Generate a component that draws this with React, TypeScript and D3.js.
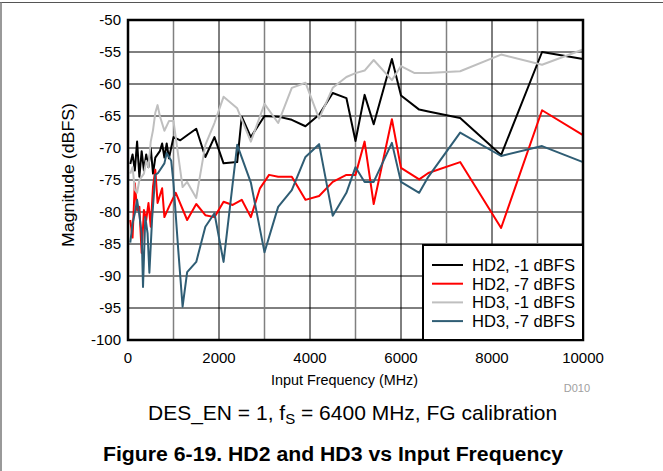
import React from 'react';
import * as d3 from 'd3';

type Pt = [number, number];

// HD2, -1 dBFS
const hd2Minus1: Pt[] = [
  [50, -72.5], [100, -71], [150, -73.5], [200, -69], [250, -74.5], [300, -70.5],
  [350, -73.5], [400, -71], [450, -73], [500, -70], [550, -74], [600, -71.5],
  [650, -71], [700, -70.5], [750, -69.3], [800, -71.5], [850, -69.3], [900, -71.6],
  [1000, -68.3], [1150, -68.8], [1300, -68], [1500, -67], [1700, -71.4], [1900, -68.3],
  [2100, -72.4], [2400, -72.2], [2500, -65.1], [2700, -68.3], [3000, -65], [3300, -65.1],
  [3600, -65.6], [3900, -66.6], [4200, -64.8], [4500, -61.4], [4800, -62.2], [5000, -68.9],
  [5200, -61.7], [5400, -66.3], [5800, -56.1], [6000, -61.8], [6400, -64], [6600, -64.3],
  [7300, -65.3], [8200, -71.1], [9100, -55], [10000, -56.1],
];

// HD2, -7 dBFS
const hd2Minus7: Pt[] = [
  [50, -81.25], [100, -84], [150, -75.5], [200, -79.7], [250, -79.2], [300, -86.4],
  [350, -79.7], [400, -81.25], [450, -78.6], [500, -82.3], [550, -76], [600, -73.4],
  [650, -78.6], [750, -76.3], [800, -80.8], [900, -79.2], [1050, -77], [1300, -81.25],
  [1500, -78.75], [1700, -80.5], [1900, -80.8], [2100, -78.4], [2300, -78.9], [2500, -78.1],
  [2700, -80.8], [2900, -76.3], [3100, -74.2], [3300, -74.5], [3600, -74.5], [3900, -78.1],
  [4200, -77.5], [4500, -75.3], [4800, -74.2], [5000, -74.2], [5200, -69], [5400, -78.75],
  [5800, -65.5], [6000, -73.1], [6400, -74.9], [6600, -73.9], [7300, -72.2], [8200, -82.5],
  [9100, -64.1], [10000, -68],
];

// HD3, -1 dBFS
const hd3Minus1: Pt[] = [
  [50, -74], [100, -73], [150, -76.5], [200, -77], [250, -75], [300, -74.5],
  [350, -74], [400, -72], [450, -73], [500, -69], [550, -67.2], [600, -64.5],
  [650, -63.3], [700, -65], [800, -67.3], [900, -65.8], [1000, -65.8], [1200, -76.1],
  [1300, -75.3], [1500, -77.8], [1700, -69.5], [1900, -66.1], [2100, -62], [2400, -63.8],
  [2700, -69], [3000, -63.1], [3300, -66.1], [3600, -60.6], [3900, -59.8], [4200, -65.4],
  [4500, -60.6], [4800, -58.9], [5000, -58.3], [5200, -57.9], [5400, -56.25], [5800, -59.4],
  [6000, -57.2], [6300, -58.3], [6600, -58.3], [7300, -58], [8200, -55.4], [9100, -57],
  [10000, -54.6],
];

// HD3, -7 dBFS
const hd3Minus7: Pt[] = [
  [50, -84.8], [100, -81.8], [150, -80.2], [200, -78.1], [250, -80.5], [300, -83.3],
  [330, -91.7], [380, -80.8], [430, -83.3], [470, -89.5], [530, -81], [600, -74.2],
  [660, -73.9], [800, -72.4], [850, -70.8], [950, -72], [1000, -75.5], [1100, -85.5],
  [1200, -94.8], [1300, -89.4], [1500, -87.8], [1700, -82.3], [1900, -80.2], [2100, -87.8],
  [2400, -69.5], [2700, -75.4], [3000, -86.3], [3300, -79.2], [3600, -76.6], [3900, -71.4],
  [4200, -69.4], [4500, -80.6], [4800, -77], [5000, -73], [5200, -75.3], [5400, -75.3],
  [5800, -69.2], [6000, -75.3], [6400, -77], [6600, -74.5], [7300, -67.6], [8200, -71.25],
  [9100, -69.7], [10000, -72.2],
];

const seriesNames = ['HD2, -1 dBFS', 'HD2, -7 dBFS', 'HD3, -1 dBFS', 'HD3, -7 dBFS'];
const seriesColors = ['#000000', '#ff0000', '#bfbfbf', '#2f5d74'];
const xTicks = [0, 2000, 4000, 6000, 8000, 10000];
const xMinorTicks = [1000, 3000, 5000, 7000, 9000];
const yTicks = [-100, -95, -90, -85, -80, -75, -70, -65, -60, -55, -50];

const W = 663;
const H = 471;
const pad = { top: 20, left: 128, right: 80, bottom: 131 };

class Plot extends React.Component<{}, {}> {
  x = d3.scaleLinear().domain([0, 10000]).range([pad.left, W - pad.right]);
  y = d3.scaleLinear().domain([-100, -50]).range([H - pad.bottom, pad.top]);

  render() {
    const { x, y } = this;
    const line = d3.line<Pt>().x(d => x(d[0])).y(d => y(d[1]));
    const data = [hd2Minus1, hd2Minus7, hd3Minus1, hd3Minus7];
    const x0 = x(0), x1 = x(10000), y0 = y(-100), y1 = y(-50);
    const lg = { x: 423, y: 245 };

    return (
      <svg
        width={W}
        height={H}
        viewBox={`0 0 ${W} ${H}`}
        style={{ position: 'absolute', left: 0, top: 0, background: '#fff' }}
        fontFamily="'Liberation Sans', Arial, sans-serif"
      >
        <line x1={0} x2={W} y1={2.5} y2={2.5} stroke="#555" strokeWidth={1} />
        <line x1={1} x2={1} y1={2} y2={H} stroke="#777" strokeWidth={1.5} />

        <g className="grid">
          {yTicks.map(t => (
            <line key={t} x1={x0} x2={x1} y1={y(t)} y2={y(t)} stroke="#000" strokeWidth={1} />
          ))}
          {xMinorTicks.map(t => (
            <line key={t} x1={x(t)} x2={x(t)} y1={y1} y2={y0} stroke="#808080" strokeWidth={1.5} />
          ))}
          {xTicks.map(t => (
            <line key={t} x1={x(t)} x2={x(t)} y1={y1} y2={y0} stroke="#000" strokeWidth={1} />
          ))}
        </g>

        <g className="data" fill="none" strokeWidth={2} strokeLinejoin="round">
          {data.map((d, i) => (
            <path key={i} d={line(d) || ''} stroke={seriesColors[i]} />
          ))}
        </g>

        <rect x={x0} y={y1} width={x1 - x0} height={y0 - y1} fill="none" stroke="#000" strokeWidth={2.5} />

        <g className="legend">
          <rect x={lg.x} y={lg.y} width={x1 - lg.x} height={y0 - lg.y} fill="#fff" stroke="#000" strokeWidth={2} />
          {seriesNames.map((n, i) => (
            <g key={n} transform={`translate(${lg.x}, ${lg.y + 20 + i * 18.7})`}>
              <line x1={9} x2={40} y1={0} y2={0} stroke={seriesColors[i]} strokeWidth={2} />
              <text x={49} y={0} dy="0.35em" fontSize={17} textLength={103} lengthAdjust="spacingAndGlyphs" fill="#000">{n}</text>
            </g>
          ))}
        </g>

        <g className="axis" fontSize={15} fill="#000">
          {yTicks.map(t => (
            <text key={t} x={x0 - 7} y={y(t)} dy="0.35em" textAnchor="end">{t}</text>
          ))}
          {xTicks.map(t => (
            <text key={t} x={x(t)} y={y0 + 18} dy="0.35em" textAnchor="middle">{t}</text>
          ))}
        </g>

        <text x={271} y={y0 + 40} dy="0.35em" fontSize={15} textLength={147} lengthAdjust="spacingAndGlyphs">Input Frequency (MHz)</text>
        <text
          transform={`translate(68, 247) rotate(-90)`}
          dy="0.35em"
          fontSize={16}
          textLength={144}
          lengthAdjust="spacingAndGlyphs"
        >Magnitude (dBFS)</text>
        <text x={x1 + 7} y={388} dy="0.35em" textAnchor="end" fontSize={11} fill="#a0a0a0">D010</text>

        <text x={148} y={413} dy="0.35em" fontSize={21}>
          DES_EN = 1, f<tspan fontSize={15} dy="4">S</tspan><tspan dy="-4"> = 6400 MHz, FG calibration</tspan>
        </text>
        <text x={103} y={454} dy="0.35em" fontSize={20} fontWeight="bold" textLength={460} lengthAdjust="spacingAndGlyphs">
          Figure 6-19. HD2 and HD3 vs Input Frequency
        </text>
      </svg>
    );
  }
}

export default function App() {
  return <Plot />;
}
